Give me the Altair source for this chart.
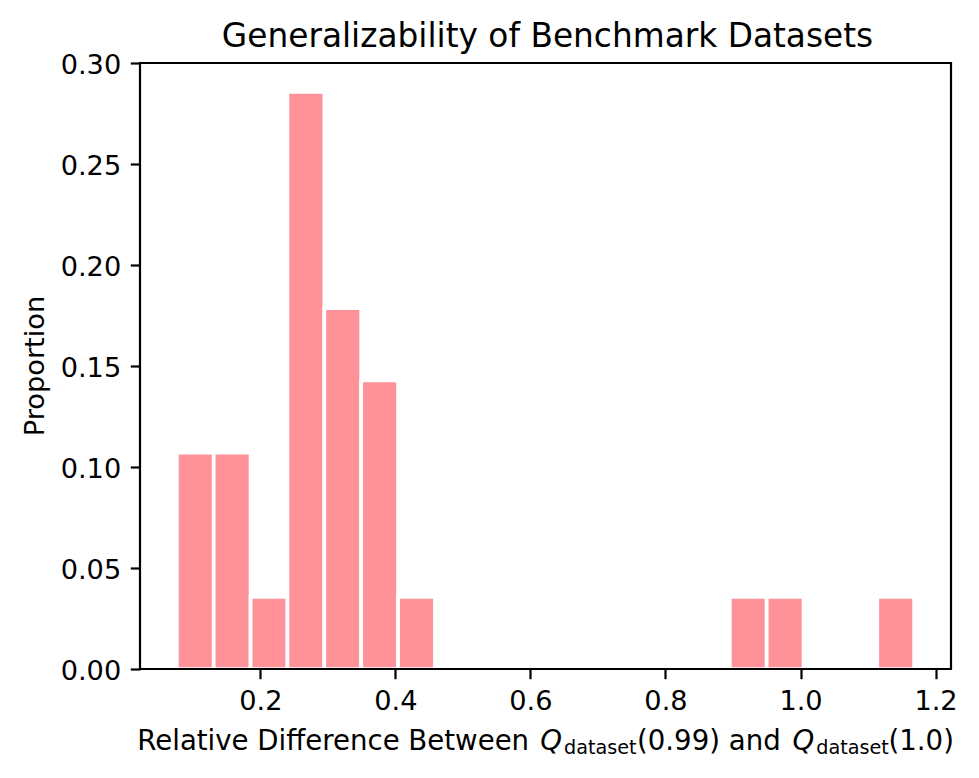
import altair as alt
import pandas as pd

# ---- data ----
bin_edges = [0.0763, 0.1309, 0.1855, 0.2401, 0.2947, 0.3493, 0.4039, 0.4585,
             0.5131, 0.5677, 0.6223, 0.6769, 0.7315, 0.7861, 0.8407, 0.8953,
             0.9499, 1.0045, 1.0591, 1.1137, 1.1683]
proportions = [0.1071, 0.1071, 0.0357, 0.2857, 0.1786, 0.1429, 0.0357, 0.0,
               0.0, 0.0, 0.0, 0.0, 0.0, 0.0, 0.0, 0.0357,
               0.0357, 0.0, 0.0, 0.0357]
x_ticks = [0.2, 0.4, 0.6, 0.8, 1.0, 1.2]
y_ticks = [0.0, 0.05, 0.10, 0.15, 0.20, 0.25, 0.30]

title_text = "Generalizability of Benchmark Datasets"
y_title = "Proportion"
x_title_parts = ["Relative Difference Between", "Q", "dataset", "(0.99) and", "Q", "dataset", "(1.0)"]

df = pd.DataFrame({"lo": bin_edges[:-1], "hi": bin_edges[1:], "p": proportions})
df = df[df["p"] > 0]

FONT = "DejaVu Sans"
BAR = "#ff9198"
LBL = 27.2
XT = 27.6
SUB = 19.2

W, H = 811, 606

bars = alt.Chart(df).mark_bar(color=BAR, stroke="white", strokeWidth=3.7, opacity=1).encode(
    x=alt.X("lo:Q",
            scale=alt.Scale(domain=[0.0217, 1.2229], nice=False, zero=False),
            axis=alt.Axis(values=x_ticks, format=".1f", title=None, zindex=1)),
    x2="hi:Q",
    y=alt.Y("p:Q", stack=None,
            scale=alt.Scale(domain=[0, 0.3], nice=False),
            axis=alt.Axis(values=y_ticks, format=".2f", title=None, labelOffset=2, zindex=1)),
    y2=alt.datum(0),
)

# bottom spine redrawn above the bars' white edges
spine = alt.Chart(alt.Data(values=[{}])).mark_rule(color="black", strokeWidth=2.2).encode(
    x=alt.value(0), x2=alt.value(W), y=alt.value(H)
)


def piece(txt, x, y, size, **kw):
    return alt.Chart(alt.Data(values=[{}])).mark_text(
        text=txt, font=FONT, fontSize=size, color="black",
        baseline="alphabetic", **kw
    ).encode(x=alt.value(x), y=alt.value(y))


layers = [bars, spine]
# title
layers.append(piece(title_text, W / 2 + 2, -16.5, 32.8, align="center"))
# y title
layers.append(piece(y_title, -96.5, 303, LBL, align="center", angle=270))
# x title (mathtext-like composition)
BASE = 687
SUBBASE = 691
layers.append(piece(x_title_parts[0], -2.7, BASE, XT, align="left"))
layers.append(piece(x_title_parts[1], 400.3, BASE, XT, align="left", fontStyle="italic"))
layers.append(piece(x_title_parts[2], 424, SUBBASE, SUB, align="left"))
layers.append(piece(x_title_parts[3], 497, BASE, XT, align="left"))
layers.append(piece(x_title_parts[4], 652.6, BASE, XT, align="left", fontStyle="italic"))
layers.append(piece(x_title_parts[5], 676.2, SUBBASE, SUB, align="left"))
layers.append(piece(x_title_parts[6], 748.5, BASE, XT, align="left"))

chart = alt.layer(*layers).properties(
    width=W, height=H,
    padding={"left": 132, "top": 55, "right": 20, "bottom": 95},
    autosize=alt.AutoSizeParams(type="none"),
).configure_view(
    stroke="black", strokeWidth=2.2
).configure_axis(
    domain=False, grid=False,
    ticks=True, tickColor="black", tickWidth=2.2, tickSize=9.7,
    labelFont=FONT, labelFontSize=LBL, labelColor="black", labelPadding=9.6,
    labelFlush=False, labelOverlap=False, labelBound=False,
).configure_axisX(
    labelBaseline="top"
)

chart.save("out.html", embed_options={"renderer": "svg", "actions": False})
